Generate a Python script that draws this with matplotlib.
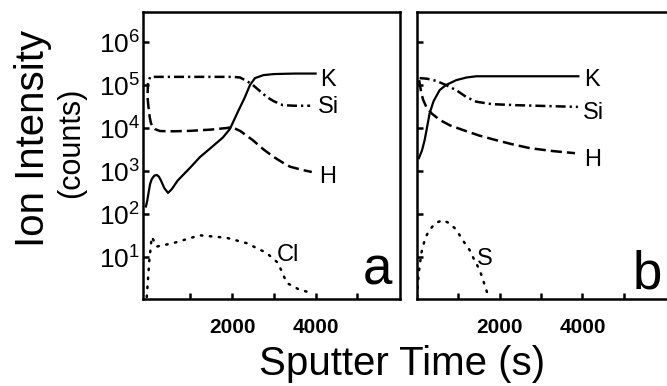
import numpy as np
import matplotlib
matplotlib.use("Agg")
import matplotlib.pyplot as plt

plt.rcParams['font.family'] = ['Liberation Sans', 'DejaVu Sans']
plt.rcParams['mathtext.fontset'] = 'custom'
plt.rcParams['mathtext.rm'] = 'Liberation Sans'

# --- panel a: sputter time (s) / ion intensity (counts) ---
a_K_x = [-60, -30, 0, 40, 80, 140, 200, 250, 300, 380, 470, 560, 700, 850, 1000, 1230, 1500, 1780, 1950,
         2150, 2300, 2430, 2550, 2750, 3000, 3500, 4000]
a_K_y = [150, 200, 300, 500, 650, 780, 810, 740, 600, 400, 310, 380, 600, 850, 1200, 2100, 3500, 6000, 9500,
         2.5e4, 5.0e4, 1.0e5, 1.45e5, 1.7e5, 1.8e5, 1.85e5, 1.85e5]

a_Si_x = [-20, -10, 40, 500, 1000, 1500, 2000, 2190, 2350, 2500, 2700, 2830, 3000, 3220, 3500, 3870]
a_Si_y = [6.5e4, 1.1e5, 1.55e5, 1.55e5, 1.55e5, 1.55e5, 1.55e5, 1.5e5, 1.25e5, 1.0e5, 6.8e4, 5.3e4, 4.2e4, 3.4e4, 3.3e4, 3.3e4]

a_H_x = [-20, -5, 10, 30, 60, 100, 150, 275, 600, 1000, 1500, 1870, 2000, 2200, 2500, 2750, 2990, 3200, 3390, 3700, 3910]
a_H_y = [5.0e4, 3.5e4, 2.6e4, 1.8e4, 1.3e4, 1.05e4, 9500, 8500, 8400, 8600, 9200, 1.0e4, 1.05e4, 8500, 5200, 3200, 2150, 1600, 1260, 1050, 950]

a_Cl_x = [-40, 20, 80, 200, 590, 1230, 1870, 2350, 2830, 3100, 3310, 3630, 3940]
a_Cl_y = [1.17, 8.0, 29.5, 17.5, 21, 32, 28, 21, 12.4, 7.3, 2.5, 1.7, 1.45]

# --- panel b ---
b_K_x = [46, 120, 184, 240, 305, 400, 547, 700, 950, 1200, 1435, 2500, 3900]
b_K_y = [2000, 3000, 5200, 1.0e4, 2.2e4, 4.2e4, 7.6e4, 1.0e5, 1.3e5, 1.5e5, 1.6e5, 1.6e5, 1.6e5]

b_Si_x = [63, 250, 467, 700, 950, 1200, 1435, 1800, 2400, 3890]
b_Si_y = [1.45e5, 1.4e5, 1.25e5, 1.0e5, 7.6e4, 5.2e4, 4.1e4, 3.6e4, 3.4e4, 3.1e4]

b_H_x = [50, 80, 104, 150, 225, 350, 547, 800, 1110, 1500, 1920, 2300, 2730, 3300, 3820]
b_H_y = [1.3e5, 9.0e4, 6.5e4, 4.5e4, 3.1e4, 2.2e4, 1.55e4, 1.15e4, 9000, 6700, 5200, 4200, 3400, 2900, 2600]

b_S_x = [0, 40, 104, 200, 305, 450, 627, 800, 950, 1100, 1270, 1400, 1515, 1620, 1715]
b_S_y = [1.17, 4.0, 12.3, 28, 43, 62, 72, 60, 43, 25, 14.6, 8.0, 5.0, 2.5, 1.3]

x_ticks = [1000, 2000, 3000, 4000, 5000]
x_ticklabels = ['', '2000', '', '4000', '']
y_ticks = [1e1, 1e2, 1e3, 1e4, 1e5, 1e6]
y_ticklabels = [r'$\mathregular{10^{%d}}$' % n for n in range(1, 7)]

LW = 1.8
styles = {
    'K': dict(linestyle='-', lw=1.6),
    'Si': dict(linestyle=(0, (4.0, 1.6, 0.9, 1.6)), lw=LW),
    'H': dict(linestyle=(0, (4.5, 2.0)), lw=LW),
    'dot': dict(linestyle=(0, (0.6, 3.0)), dash_capstyle='round', lw=LW),
}

fig = plt.figure(figsize=(6.67, 3.86), dpi=100)
ax_a = fig.add_axes([143 / 667, 87 / 386, 257 / 667, 287 / 386])
ax_b = fig.add_axes([417 / 667, 87 / 386, 257 / 667, 287 / 386])

def setup(ax, xlim, ylabels):
    ax.set_yscale('log')
    ax.set_xlim(*xlim)
    ax.set_ylim(1.055, 5.0e6)
    ax.set_xticks(x_ticks)
    ax.set_xticklabels(x_ticklabels, fontsize=15, fontweight='bold')
    ax.set_yticks(y_ticks)
    ax.yaxis.set_minor_locator(matplotlib.ticker.NullLocator())
    if ylabels:
        ax.set_yticklabels(y_ticklabels, fontsize=19)
    else:
        ax.set_yticklabels([])
    ax.tick_params(axis='both', direction='in', length=4, width=1.8, top=False, right=False)
    ax.tick_params(axis='x', pad=14)
    ax.tick_params(axis='y', pad=2)
    for sp in ax.spines.values():
        sp.set_linewidth(1.8)

setup(ax_a, (-130, 6020), True)
setup(ax_b, (0, 6213), False)

ax_a.plot(a_K_x, a_K_y, color='black', **styles['K'])
ax_a.plot(a_Si_x, a_Si_y, color='black', **styles['Si'])
ax_a.plot(a_H_x, a_H_y, color='black', **styles['H'])
ax_a.plot(a_Cl_x, a_Cl_y, color='black', **styles['dot'])

ax_b.plot(b_K_x, b_K_y, color='black', **styles['K'])
ax_b.plot(b_Si_x, b_Si_y, color='black', **styles['Si'])
ax_b.plot(b_H_x, b_H_y, color='black', **styles['H'])
ax_b.plot(b_S_x, b_S_y, color='black', **styles['dot'])

lab = dict(fontsize=17, ha='left', va='center')
ax_a.text(4100, 10**5.12, 'K', **lab)
ax_a.text(4060, 10**4.49, 'Si', **lab)
ax_a.text(4080, 10**2.86, 'H', **lab)
ax_a.text(3060, 10**1.05, 'Cl', **lab)

ax_b.text(4030, 10**5.12, 'K', **lab)
ax_b.text(4010, 10**4.35, 'Si', **lab)
ax_b.text(4030, 10**3.26, 'H', **lab)
ax_b.text(1440, 10**0.95, 'S', **lab)

ax_a.text(0.969, 0.049, 'a', transform=ax_a.transAxes, fontsize=38, ha='right', va='baseline')
ax_b.text(0.953, 0.038, 'b', transform=ax_b.transAxes, fontsize=38, ha='right', va='baseline')

fig.text(33 / 667, (386 - 138) / 386, 'Ion Intensity', rotation=90, fontsize=29, ha='center', va='center')
fig.text(71 / 667, (386 - 143) / 386, '(counts)', rotation=90, fontsize=22, ha='center', va='center')
fig.text(402 / 667, 11 / 386, 'Sputter Time (s)', fontsize=29, ha='center', va='baseline')

fig.savefig('out.png', dpi=100)
